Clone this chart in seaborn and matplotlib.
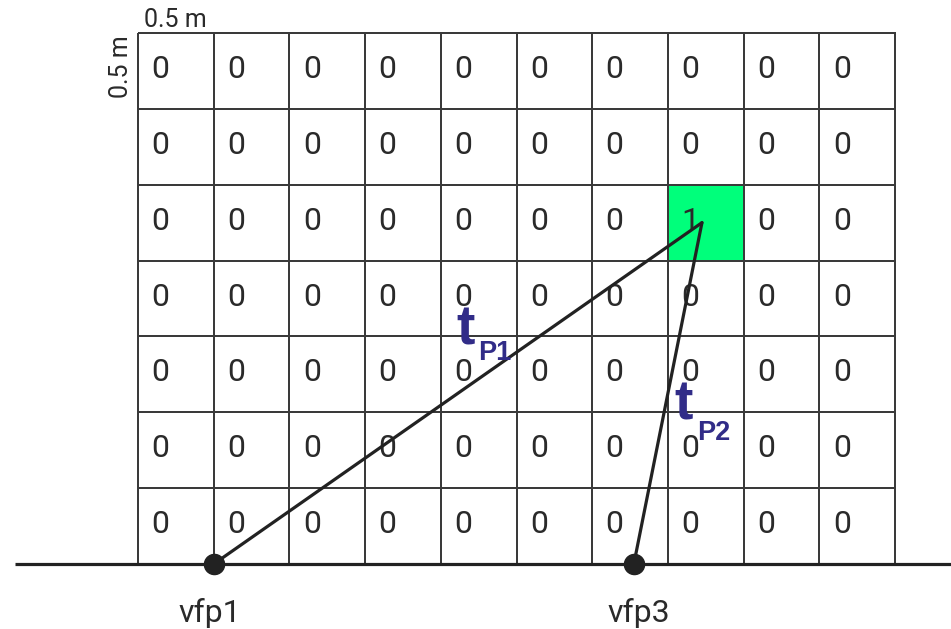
import numpy as np
import pandas as pd
import matplotlib
matplotlib.use("Agg")
import matplotlib.pyplot as plt
import seaborn as sns
from matplotlib.colors import ListedColormap

# ---- data ----
grid_values = [
    [0, 0, 0, 0, 0, 0, 0, 0, 0, 0],
    [0, 0, 0, 0, 0, 0, 0, 0, 0, 0],
    [0, 0, 0, 0, 0, 0, 0, 1, 0, 0],
    [0, 0, 0, 0, 0, 0, 0, 0, 0, 0],
    [0, 0, 0, 0, 0, 0, 0, 0, 0, 0],
    [0, 0, 0, 0, 0, 0, 0, 0, 0, 0],
    [0, 0, 0, 0, 0, 0, 0, 0, 0, 0],
]
receiver_labels = ["vfp1", "vfp3"]
receiver_x = [1.0, 6.55]          # in cell units along the surface
source_point = (7.45, 2.50)       # (column, row) in cell units
ray_labels = ["P1", "P2"]
cell_label = "0.5 m"

sns.set_theme(style="white")
plt.rcParams["font.family"] = ["Roboto", "DejaVu Sans"]

df = pd.DataFrame(grid_values)
n_rows, n_cols = df.shape

fig = plt.figure(figsize=(9.51, 6.29), dpi=100)
ax = fig.add_axes([0, 0, 1, 1])

cmap = ListedColormap(["#ffffff", "#00ff7b"])
sns.heatmap(df, ax=ax, cmap=cmap, vmin=0, vmax=1, cbar=False, annot=False,
            linewidths=1.3, linecolor="#3a3a3a", square=False)

for i in range(n_rows):
    for j in range(n_cols):
        ax.text(j + 0.297, i + 0.593, str(grid_values[i][j]), ha="center",
                va="baseline", fontsize=23, color="#2a2a2a", zorder=3)

surface_y = n_rows
# ground line
ax.plot([-1.62, 10.75], [surface_y, surface_y], color="#222222", lw=2.3,
        solid_capstyle="butt", zorder=4)

# rays from receivers to source
for rx in receiver_x:
    ax.plot([rx, source_point[0]], [surface_y, source_point[1]],
            color="#222222", lw=2.3, zorder=5, solid_capstyle="round")

# receivers
ax.plot(receiver_x, [surface_y] * len(receiver_x), "o", color="#222222",
        markersize=14.5, zorder=6)
label_offsets = [-0.05, 0.06]
for rx, dx, lab in zip(receiver_x, label_offsets, receiver_labels):
    ax.text(rx + dx, surface_y + 0.76, lab, ha="center", va="baseline",
            fontsize=23, color="#2a2a2a")

# ray labels
ray_color = "#312c88"
t_pos = [(4.21, 4.11), (7.08, 5.10)]
sub_pos = [(4.49, 4.31), (7.38, 5.36)]
for (tx, ty), (sx, sy), lab in zip(t_pos, sub_pos, ray_labels):
    ax.text(tx, ty, "t", ha="left", va="baseline", fontsize=40,
            fontweight="bold", family=["Liberation Sans", "DejaVu Sans"],
            color=ray_color, zorder=7)
    ax.text(sx, sy, lab, ha="left", va="baseline", fontsize=19.5,
            fontweight="bold", family=["Liberation Sans", "DejaVu Sans"],
            color=ray_color, zorder=7)

# scale labels
ax.text(0.5, -0.08, cell_label, ha="center", va="baseline", fontsize=18,
        color="#2a2a2a")
ax.text(-0.13, 0.44, cell_label, ha="center", va="baseline", fontsize=18,
        color="#2a2a2a", rotation=90, rotation_mode="anchor")

ax.set_xlim(-138 / 75.7, (951 - 138) / 75.7)
ax.set_ylim(7 + 65 / 75.9, -33 / 75.9)
ax.axis("off")

fig.savefig("out.png", dpi=100)
